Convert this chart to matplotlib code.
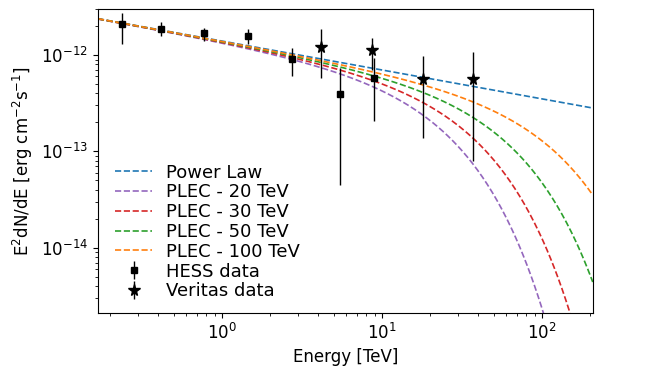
import numpy as np
import matplotlib
matplotlib.use("Agg")
import matplotlib.pyplot as plt

# model parameters
norm_1tev = 1.4e-12      # E^2 dN/dE at 1 TeV [erg cm^-2 s^-1]
index = 2.3
cutoffs = [20, 30, 50, 100]   # TeV
cutoff_colors = ['#9467bd', '#d62728', '#2ca02c', '#ff7f0e']
e_min, e_max = 0.168, 208.0

# HESS data points
hess_e = [0.238, 0.416, 0.775, 1.46, 2.73, 5.44, 8.91]
hess_f = [2.08e-12, 1.89e-12, 1.69e-12, 1.57e-12, 9.1e-13, 3.91e-13, 5.73e-13]
hess_hi = [2.77e-12, 2.23e-12, 1.92e-12, 1.85e-12, 1.19e-12, 7.28e-13, 9.24e-13]
hess_lo = [1.32e-12, 1.57e-12, 1.41e-12, 1.32e-12, 6.06e-13, 4.5e-14, 2.07e-13]

# Veritas data points
ver_e = [4.16, 8.7, 18.0, 37.0]
ver_f = [1.21e-12, 1.13e-12, 5.64e-13, 5.69e-13]
ver_hi = [1.85e-12, 1.52e-12, 9.84e-13, 1.07e-12]
ver_lo = [5.73e-13, 7.0e-13, 1.37e-13, 8.0e-14]

plt.rcParams['font.size'] = 12

energy = np.logspace(np.log10(e_min), np.log10(e_max), 400)
power_law = norm_1tev * energy ** (2 - index)

fig = plt.figure(figsize=(6.66, 3.67), dpi=100)
ax = fig.add_axes([0.147, 0.147, 0.743, 0.828])

ax.plot(energy, power_law, '--', color='#1f77b4', lw=1.2, label='Power Law')
for ec, col in zip(cutoffs, cutoff_colors):
    ax.plot(energy, power_law * np.exp(-energy / ec), '--', color=col, lw=1.2,
            label='PLEC - %d TeV' % ec)

hess_err = [np.array(hess_f) - np.array(hess_lo), np.array(hess_hi) - np.array(hess_f)]
ver_err = [np.array(ver_f) - np.array(ver_lo), np.array(ver_hi) - np.array(ver_f)]
ax.errorbar(hess_e, hess_f, yerr=hess_err, fmt='s', color='k', ms=5, lw=1,
            label='HESS data')
ax.errorbar(ver_e, ver_f, yerr=ver_err, fmt='*', color='k', ms=8.5, lw=1,
            label='Veritas data')

ax.set_xscale('log')
ax.set_yscale('log')
ax.set_xlim(e_min, e_max)
ax.set_ylim(2.1e-15, 3.0e-12)
ax.set_xlabel('Energy [TeV]')
ax.set_ylabel(r'E$^2$dN/dE [erg cm$^{-2}$s$^{-1}$]')
ax.legend(loc='lower left', frameon=False, labelspacing=0.1, fontsize=13,
          borderaxespad=0.3, bbox_to_anchor=(0.01, 0.0))

fig.savefig('out.png', dpi=100)
